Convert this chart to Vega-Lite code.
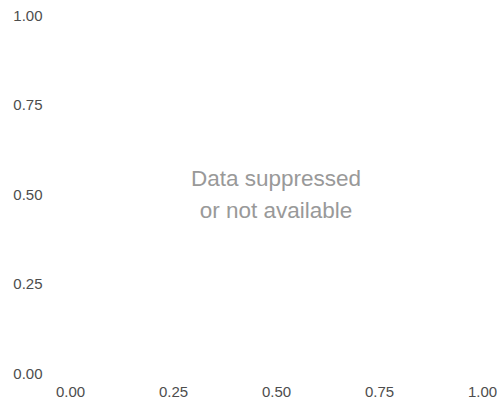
{
  "$schema": "https://vega.github.io/schema/vega-lite/v6.json",
  "width": 412,
  "height": 358,
  "autosize": {"type": "none"},
  "padding": {"left": 70, "top": 15, "right": 15, "bottom": 42},
  "background": "white",
  "config": {
    "view": {"stroke": null},
    "font": "Liberation Sans"
  },
  "data": {"values": [{"x": 0.5, "y": 0.5, "label": "Data suppressed\nor not available"}]},
  "mark": {"type": "text", "lineBreak": "\n", "fontSize": 22.5, "color": "#999999", "lineHeight": 32, "baseline": "middle", "align": "center", "dy": -15, "font": "Liberation Sans"},
  "encoding": {
    "x": {"field": "x", "type": "quantitative", "scale": {"domain": [0, 1], "nice": false, "zero": false},
      "axis": {"title": null, "values": [0, 0.25, 0.5, 0.75, 1], "format": ".2f", "grid": false, "domain": false, "ticks": false, "labelPadding": 11, "labelFontSize": 15, "labelColor": "#4d4d4d", "labelFont": "Liberation Sans", "labelFlush": false}},
    "y": {"field": "y", "type": "quantitative", "scale": {"domain": [0, 1], "nice": false, "zero": false},
      "axis": {"title": null, "values": [0, 0.25, 0.5, 0.75, 1], "format": ".2f", "grid": false, "domain": false, "ticks": false, "labelPadding": 28, "labelFontSize": 15, "labelColor": "#4d4d4d", "labelFont": "Liberation Sans", "labelFlush": false}},
    "text": {"field": "label"}
  }
}
